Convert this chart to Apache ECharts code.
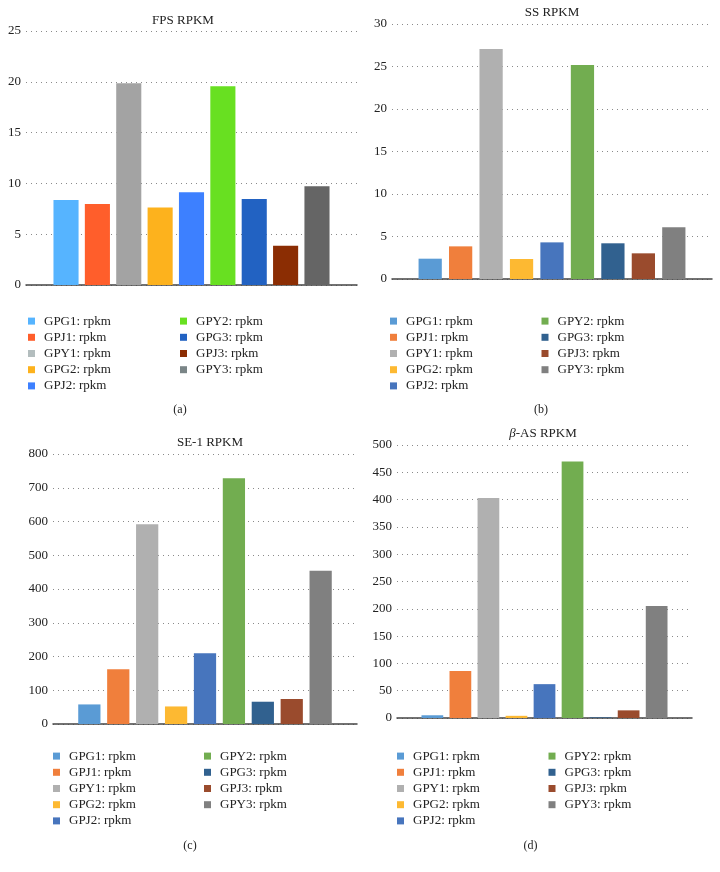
<!DOCTYPE html>
<html>
<head>
<meta charset="utf-8">
<script src="https://cdn.jsdelivr.net/npm/echarts@6/dist/echarts.min.js"></script>
<style>html,body{margin:0;padding:0;background:#fff}#c{width:720px;height:872px}</style>
</head>
<body>
<div id="c"></div>
<script>
const seriesNames = ['GPG1: rpkm','GPJ1: rpkm','GPY1: rpkm','GPG2: rpkm','GPJ2: rpkm','GPY2: rpkm','GPG3: rpkm','GPJ3: rpkm','GPY3: rpkm'];
const panelTitles = ['FPS RPKM','SS RPKM','SE-1 RPKM','{i|β}-AS RPKM'];
const panelCaptions = ['(a)','(b)','(c)','(d)'];
const fpsValues = [8.37, 7.97, 19.85, 7.64, 9.12, 19.55, 8.46, 3.87, 9.71];
const ssValues  = [2.39, 3.84, 27.06, 2.35, 4.31, 25.18, 4.2, 3.02, 6.08];
const se1Values = [58, 162, 592, 52, 210, 728, 66, 74, 454];
const basValues = [5, 86, 403, 4, 62, 470, 1.2, 14, 205];
const yMax = [25, 30, 800, 500];
const yInterval = [5, 5, 100, 50];
const colorsA = ['#56B4FF','#FF5E2B','#A3A3A3','#FDB21D','#3D80FF','#68E021','#2262C2','#8B2D03','#656565'];
const legendColorsA = ['#56B4FF','#FF5E2B','#B3BDBE','#FDB21D','#3D80FF','#68E021','#2262C2','#8B2D03','#7A8587'];
const colorsB = ['#5A9BD5','#F07F3C','#B0B0B0','#FDB932','#4775BD','#72AD50','#31618F','#9A4B2D','#808080'];

const values = [fpsValues, ssValues, se1Values, basValues];
const barColors = [colorsA, colorsB, colorsB, colorsB];
const legendColors = [legendColorsA, colorsB, colorsB, colorsB];
const keys = ['a','b','c','d'];

const grids = [
  {left: 26, top: 31, width: 331, height: 254},
  {left: 392, top: 24, width: 320, height: 255},
  {left: 53, top: 454, width: 304, height: 270},
  {left: 397, top: 445, width: 295, height: 273}
];
const titlePos = [[183, 14], [552, 6], [210, 436], [543, 427]];
const captionPos = [[180, 404], [541, 404], [190, 840], [530.5, 840]];
const legendPos = [
  [[28, 313], [180, 313]],
  [[390, 313], [541.5, 313]],
  [[53, 748], [204, 748]],
  [[397, 748], [548.5, 748]]
];
const barGaps = ['25%', '31%', '30%', '29%'];
const serif = 'Liberation Serif, Times New Roman, serif';

const option = {
  animation: false,
  backgroundColor: '#fff',
  title: [],
  grid: [], xAxis: [], yAxis: [], series: [], legend: []
};

for (let p = 0; p < 4; p++) {
  option.grid.push(grids[p]);
  option.title.push({
    text: panelTitles[p], left: titlePos[p][0], top: titlePos[p][1], textAlign: 'center', padding: 0,
    textStyle: {fontFamily: serif, fontSize: 13, fontWeight: 'normal', color: '#222',
      rich: {i: {fontStyle: 'italic', fontFamily: serif, fontSize: 13, color: '#222'}}}
  });
  option.title.push({
    text: panelCaptions[p], left: captionPos[p][0], top: captionPos[p][1], textAlign: 'center', padding: 0,
    textStyle: {fontFamily: serif, fontSize: 12, fontWeight: 'normal', color: '#222'}
  });
  option.xAxis.push({
    type: 'category', gridIndex: p, data: ['rpkm'],
    axisLabel: {show: false}, axisTick: {show: false},
    axisLine: {show: true, lineStyle: {color: '#444', width: 1.5}}
  });
  option.yAxis.push({
    type: 'value', gridIndex: p, min: 0, max: yMax[p], interval: yInterval[p],
    axisLine: {show: false}, axisTick: {show: false},
    axisLabel: {fontFamily: serif, fontSize: 13, color: '#222', margin: 5},
    splitLine: {show: true, lineStyle: {color: '#8a8a8a', width: 1, type: [1, 4]}}
  });
  const names = [];
  for (let s = 0; s < 9; s++) {
    const nm = seriesNames[s] + '#' + keys[p];
    names.push({name: nm, itemStyle: {color: legendColors[p][s]}});
    option.series.push({
      type: 'bar', name: nm, xAxisIndex: p, yAxisIndex: p,
      data: [values[p][s]],
      barGap: barGaps[p], barCategoryGap: '16.6%',
      itemStyle: {color: barColors[p][s]}
    });
  }
  const common = {
    orient: 'vertical', padding: 0, itemGap: 0, itemWidth: 7, itemHeight: 7, icon: 'rect',
    selectedMode: false,
    formatter: n => n.split('#')[0],
    textStyle: {fontFamily: serif, fontSize: 13, color: '#222', lineHeight: 16.2, padding: [0, 0, 0, 4]}
  };
  option.legend.push(Object.assign({}, common, {left: legendPos[p][0][0], top: legendPos[p][0][1], data: names.slice(0, 5)}));
  option.legend.push(Object.assign({}, common, {left: legendPos[p][1][0], top: legendPos[p][1][1], data: names.slice(5)}));
}

const chart = echarts.init(document.getElementById('c'), null, {renderer: 'canvas'});
chart.setOption(option);
</script>
</body>
</html>
